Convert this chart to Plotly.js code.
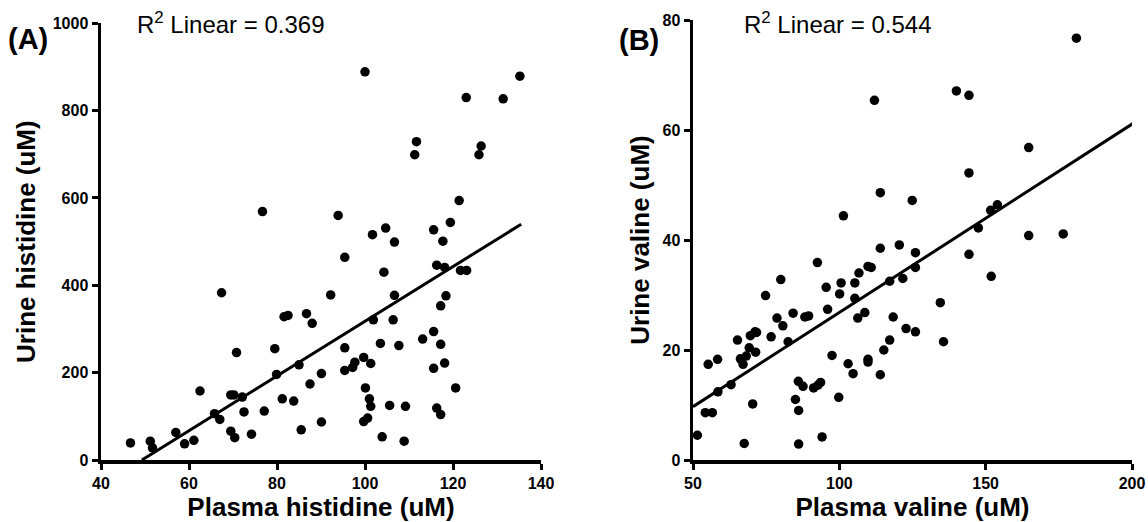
<!DOCTYPE html>
<html>
<head>
<meta charset="utf-8">
<script src="https://cdn.plot.ly/plotly-3.0.1.min.js"></script>
<style>html,body{margin:0;padding:0;background:#fff;}#chart{width:1148px;height:522px;}</style>
</head>
<body>
<div id="chart"></div>
<script>
// Panel A: plasma vs urine histidine (uM)
const histPlasma = [46.7,51.2,51.7,57.0,59.0,61.1,62.5,65.8,67.0,67.4,69.5,70.4,69.5,70.2,70.8,72.1,72.5,74.2,76.7,77.1,79.5,79.9,81.2,81.6,82.5,83.8,85.0,85.5,86.7,87.5,88.0,90.1,90.1,92.2,93.9,95.4,95.4,95.4,97.2,97.7,99.7,100.0,100.1,99.7,100.6,101.0,101.3,101.3,101.7,101.9,103.5,103.9,104.3,104.7,105.6,106.4,106.7,106.7,107.7,108.9,109.2,111.3,111.7,113.1,115.6,115.6,115.6,116.3,116.3,117.2,117.2,117.2,117.7,118.1,118.4,118.1,119.4,120.6,121.4,121.7,123.1,123.0,125.9,126.4,131.4,135.2];
const histUrine = [39,43,28,63,37,45,158,106,93,383,66,51,149,149,246,144,110,59,569,112,255,196,140,328,331,135,218,69,335,174,313,198,87,378,560,464,257,205,212,224,235,889,165,88,96,140,123,221,516,321,267,53,430,531,125,321,377,499,262,43,123,699,729,277,527,294,210,446,119,104,353,265,501,441,376,222,544,165,594,434,434,830,699,719,827,879];
const histFitX = [49.3, 135.5];
const histFitY = [0, 540];
const histR2 = "0.369";

// Panel B: plasma vs urine valine (uM)
const valPlasma = [51.5,54.2,56.6,55.2,58.4,58.5,63.0,65.2,66.2,67.1,67.5,68.2,69.2,69.6,70.4,71.2,71.7,71.4,74.8,76.7,78.7,80.0,80.7,82.5,84.2,85.0,86.0,86.1,86.1,87.6,88.2,89.5,91.2,92.7,93.6,92.5,94.1,95.5,96.0,97.5,99.8,100.1,100.6,101.4,103.0,104.7,105.3,105.3,106.3,106.7,108.7,109.8,109.8,109.8,110.9,112.0,114.0,114.0,114.0,115.2,117.2,117.2,118.4,120.5,121.7,122.8,124.9,126.0,126.0,126.0,134.5,135.6,140.0,144.3,144.3,144.3,147.5,151.7,154.0,151.9,164.7,164.7,176.5,181.0];
const valUrine = [4.5,8.6,8.6,17.4,18.3,12.4,13.7,21.8,18.4,17.4,3.0,18.9,20.4,22.6,10.2,23.3,23.2,19.6,29.9,22.4,25.8,32.8,24.4,21.5,26.7,11.0,14.3,9.0,2.9,13.4,26.0,26.2,13.1,13.6,14.1,35.9,4.2,31.4,27.4,19.0,11.4,30.2,32.2,44.4,17.5,15.7,32.2,29.4,25.8,34.0,26.8,18.3,17.8,35.2,35.0,65.4,48.6,38.5,15.5,20.0,21.8,32.5,26.0,39.1,33.0,23.9,47.2,37.7,35.0,23.3,28.6,21.5,67.1,66.3,52.2,37.4,42.2,45.4,46.4,33.4,56.8,40.8,41.1,76.7];
const valFitX = [50, 200.4];
const valFitY = [9.7, 61.2];
const valR2 = "0.544";

const xTicksA = [40,60,80,100,120,140];
const yTicksA = [0,200,400,600,800,1000];
const xTicksB = [50,100,150,200];
const yTicksB = [0,20,40,60,80];

const FONT = "Liberation Sans, Arial, sans-serif";
const marker = {color:'#000', size:9.5, line:{width:0}};

const traces = [
  {x:histPlasma, y:histUrine, mode:'markers', type:'scatter', marker:marker, xaxis:'x', yaxis:'y', hoverinfo:'x+y'},
  {x:histFitX, y:histFitY, mode:'lines', type:'scatter', line:{color:'#000', width:3}, xaxis:'x', yaxis:'y'},
  {x:valPlasma, y:valUrine, mode:'markers', type:'scatter', marker:marker, xaxis:'x2', yaxis:'y2', hoverinfo:'x+y'},
  {x:valFitX, y:valFitY, mode:'lines', type:'scatter', line:{color:'#000', width:3}, xaxis:'x2', yaxis:'y2'}
];

function boldLabels(vals){ return vals.map(v => '<b>' + v + '</b>'); }

function axis(extra){
  return Object.assign({
    showline:true, linecolor:'#000', linewidth:3.5, mirror:false,
    ticks:'outside', ticklen:6, tickwidth:3, tickcolor:'#000',
    showgrid:false, zeroline:false, tickmode:'array',
    tickfont:{family:FONT, size:16, color:'#000', weight:700},
    automargin:false, fixedrange:true
  }, extra);
}

const titleFont = {family:FONT, size:26, color:'#000', weight:700};

const layout = {
  width:1148, height:522,
  margin:{l:0, r:0, t:0, b:0},
  paper_bgcolor:'#fff', plot_bgcolor:'#fff',
  showlegend:false,
  xaxis: axis({domain:[101/1148, 541/1148], range:[40,140], tickvals:xTicksA, ticktext:boldLabels(xTicksA), anchor:'y',
    title:{text:'Plasma histidine (uM)', font:titleFont, standoff:12}}),
  yaxis: axis({domain:[62/522, 498.7/522], range:[0,1000], tickvals:yTicksA, ticktext:boldLabels(yTicksA), anchor:'x',
    title:{text:'Urine histidine (uM)', font:titleFont, standoff:10}}),
  xaxis2: axis({domain:[693/1148, 1132/1148], range:[50,200], tickvals:xTicksB, ticktext:boldLabels(xTicksB), anchor:'y2',
    title:{text:'Plasma valine (uM)', font:titleFont, standoff:12}}),
  yaxis2: axis({domain:[62/522, 502/522], range:[0,80], tickvals:yTicksB, ticktext:boldLabels(yTicksB), anchor:'x2',
    title:{text:'Urine valine (uM)', font:titleFont, standoff:6}}),
  annotations:[
    {text:'R<sup>2</sup> Linear = ' + histR2, xref:'paper', yref:'paper', x:135/1148, y:1-23/522,
     xanchor:'left', yanchor:'middle', showarrow:false, font:{family:FONT, size:24, color:'#000'}},
    {text:'R<sup>2</sup> Linear = ' + valR2, xref:'paper', yref:'paper', x:742/1148, y:1-23/522,
     xanchor:'left', yanchor:'middle', showarrow:false, font:{family:FONT, size:24, color:'#000'}},
    {text:'<b>(A)</b>', xref:'paper', yref:'paper', x:6/1148, y:1-39/522,
     xanchor:'left', yanchor:'middle', showarrow:false, font:{family:FONT, size:29, color:'#000', weight:700}},
    {text:'<b>(B)</b>', xref:'paper', yref:'paper', x:617/1148, y:1-40/522,
     xanchor:'left', yanchor:'middle', showarrow:false, font:{family:FONT, size:29, color:'#000', weight:700}}
  ]
};

Plotly.newPlot('chart', traces, layout, {displayModeBar:false, staticPlot:true});
</script>
</body>
</html>
